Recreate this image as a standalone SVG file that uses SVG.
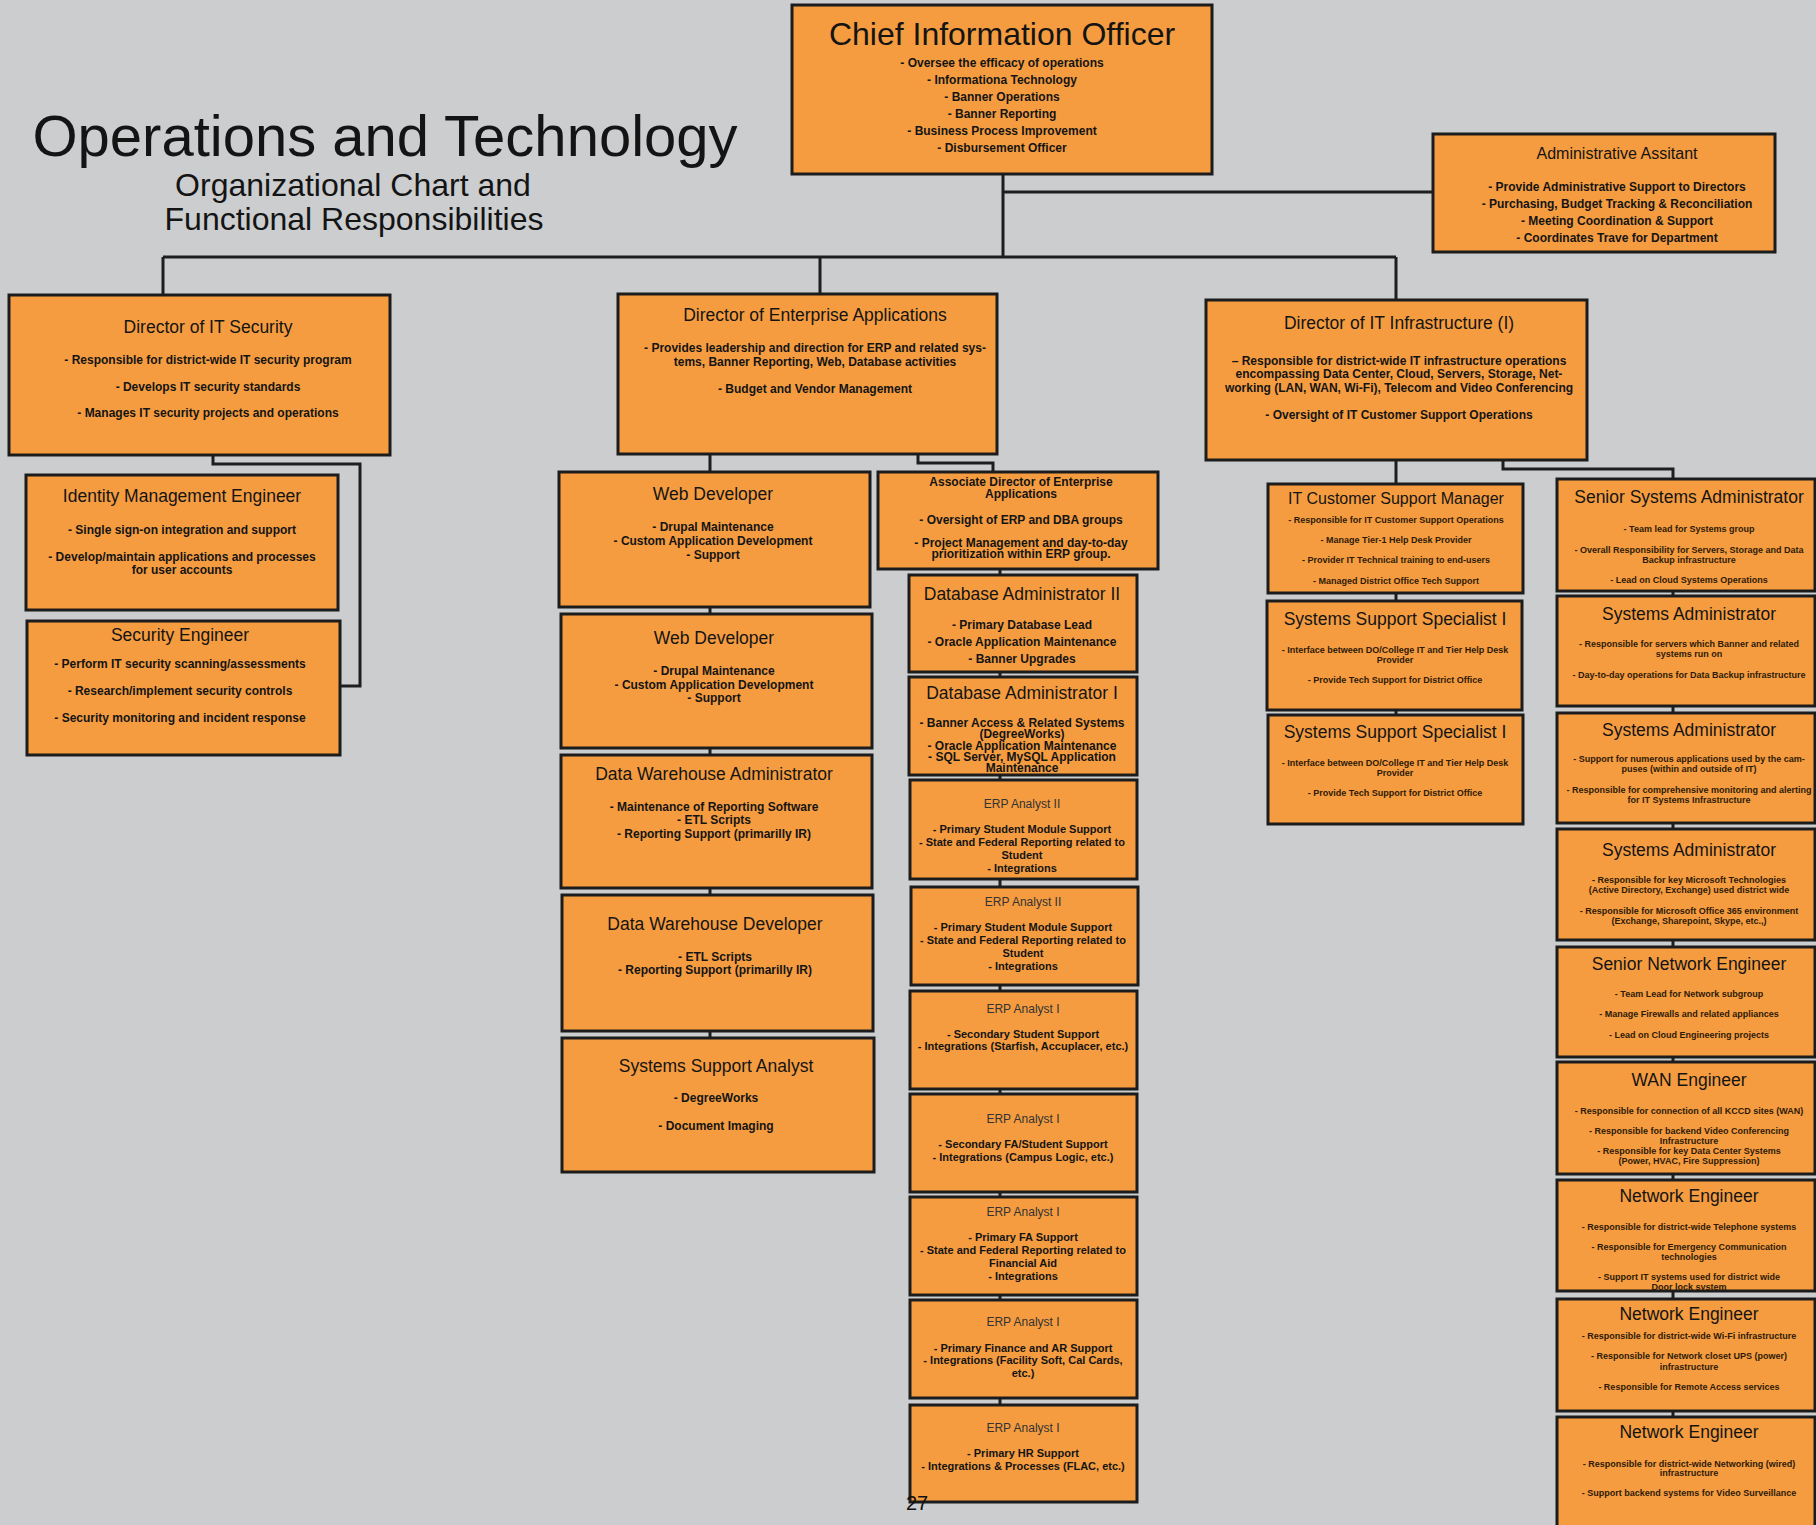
<svg xmlns="http://www.w3.org/2000/svg" width="1816" height="1525" viewBox="0 0 1816 1525">
<style>
.bg{fill:#cbcdcf}
.bx{fill:#f59c40;stroke:#1c1c1c;stroke-width:3}
.ln{fill:none;stroke:#1e1e1e;stroke-width:3}
text{font-family:"Liberation Sans",Arial,sans-serif;text-anchor:middle;fill:#141414}
.h{font-size:17.5px}
.h16{font-size:16px}
.b{font-size:12px;font-weight:bold}
.e{font-size:12px;fill:#333}
.eb{font-size:11px;font-weight:bold}
.s{font-size:9px;font-weight:bold;fill:#2e1a08}
</style>
<rect class="bg" x="0" y="0" width="1816" height="1525"/>
<g id="title">
<text x="385" y="156" style="font-size:58px">Operations and Technology</text>
<text x="353" y="196" style="font-size:32px">Organizational Chart and</text>
<text x="354" y="230" style="font-size:32px">Functional Responsibilities</text>
</g>
<g id="connectors">
<path class="ln" d="M1003 174V257M1003 192H1433M163 257H1396M163 257V295M820 257V294M1396 257V300"/>
<path class="ln" d="M213 455V464H360V686H340"/>
<path class="ln" d="M710 454V1038"/>
<path class="ln" d="M918 454V463H993V472"/>
<path class="ln" d="M1000 569V1405"/>
<path class="ln" d="M1396 460V715"/>
<path class="ln" d="M1503 460V469H1673V479"/>
<path class="ln" d="M1673 479V1525"/>
</g>
<g id="cio">
<rect class="bx" x="792" y="5" width="420" height="169"/>
<text x="1002" y="45" style="font-size:32px">Chief Information Officer</text>
<text class="b" x="1002" y="67">- Oversee the efficacy of operations</text>
<text class="b" x="1002" y="84">- Informationa Technology</text>
<text class="b" x="1002" y="101">- Banner Operations</text>
<text class="b" x="1002" y="118">- Banner Reporting</text>
<text class="b" x="1002" y="135">- Business Process Improvement</text>
<text class="b" x="1002" y="152">- Disbursement Officer</text>
</g>
<g id="admin">
<rect class="bx" x="1433" y="134" width="342" height="118"/>
<text class="h16" x="1617" y="159">Administrative Assitant</text>
<text class="b" x="1617" y="191">- Provide Administrative Support to Directors</text>
<text class="b" x="1617" y="208">- Purchasing, Budget Tracking &amp; Reconciliation</text>
<text class="b" x="1617" y="225">- Meeting Coordination &amp; Support</text>
<text class="b" x="1617" y="242">- Coordinates Trave for Department</text>
</g>
<g id="dir-security">
<rect class="bx" x="9" y="295" width="381" height="160"/>
<text class="h" x="208" y="333">Director of IT Security</text>
<text class="b" x="208" y="364">- Responsible for district-wide IT security program</text>
<text class="b" x="208" y="391">- Develops IT security standards</text>
<text class="b" x="208" y="417">- Manages IT security projects and operations</text>
</g>
<g id="identity-eng">
<rect class="bx" x="26" y="475" width="312" height="135"/>
<text class="h" x="182" y="502">Identity Management Engineer</text>
<text class="b" x="182" y="534">- Single sign-on integration and support</text>
<text class="b" x="182" y="561">- Develop/maintain applications and processes</text>
<text class="b" x="182" y="574">for user accounts</text>
</g>
<g id="security-eng">
<rect class="bx" x="27" y="621" width="313" height="134"/>
<text class="h" x="180" y="641">Security Engineer</text>
<text class="b" x="180" y="668">- Perform IT security scanning/assessments</text>
<text class="b" x="180" y="695">- Research/implement security controls</text>
<text class="b" x="180" y="722">- Security monitoring and incident response</text>
</g>
<g id="dir-enterprise">
<rect class="bx" x="618" y="294" width="379" height="160"/>
<text class="h" x="815" y="321">Director of Enterprise Applications</text>
<text class="b" x="815" y="352">- Provides leadership and direction for ERP and related sys-</text>
<text class="b" x="815" y="366">tems, Banner Reporting, Web, Database activities</text>
<text class="b" x="815" y="393">- Budget and Vendor Management</text>
</g>
<g id="web-dev-1">
<rect class="bx" x="559" y="472" width="311" height="135"/>
<text class="h" x="713" y="500">Web Developer</text>
<text class="b" x="713" y="531">- Drupal Maintenance</text>
<text class="b" x="713" y="545">- Custom Application Development</text>
<text class="b" x="713" y="559">- Support</text>
</g>
<g id="web-dev-2">
<rect class="bx" x="561" y="614" width="311" height="134"/>
<text class="h" x="714" y="644">Web Developer</text>
<text class="b" x="714" y="675">- Drupal Maintenance</text>
<text class="b" x="714" y="689">- Custom Application Development</text>
<text class="b" x="714" y="702">- Support</text>
</g>
<g id="dw-admin">
<rect class="bx" x="561" y="755" width="311" height="133"/>
<text class="h" x="714" y="780">Data Warehouse Administrator</text>
<text class="b" x="714" y="811">- Maintenance of Reporting Software</text>
<text class="b" x="714" y="824">- ETL Scripts</text>
<text class="b" x="714" y="838">- Reporting Support (primarilly IR)</text>
</g>
<g id="dw-dev">
<rect class="bx" x="562" y="895" width="311" height="136"/>
<text class="h" x="715" y="930">Data Warehouse Developer</text>
<text class="b" x="715" y="961">- ETL Scripts</text>
<text class="b" x="715" y="974">- Reporting Support (primarilly IR)</text>
</g>
<g id="sys-support-analyst">
<rect class="bx" x="562" y="1038" width="312" height="134"/>
<text class="h" x="716" y="1072">Systems Support Analyst</text>
<text class="b" x="716" y="1102">- DegreeWorks</text>
<text class="b" x="716" y="1130">- Document Imaging</text>
</g>
<g id="assoc-dir">
<rect class="bx" x="878" y="472" width="280" height="97"/>
<text class="b" x="1021" y="486">Associate Director of Enterprise</text>
<text class="b" x="1021" y="498">Applications</text>
<text class="b" x="1021" y="524">- Oversight of ERP and DBA groups</text>
<text class="b" x="1021" y="547">- Project Management and day-to-day</text>
<text class="b" x="1021" y="558">prioritization within ERP group.</text>
</g>
<g id="dba-2">
<rect class="bx" x="909" y="575" width="228" height="97"/>
<text class="h" x="1022" y="600">Database Administrator II</text>
<text class="b" x="1022" y="629">- Primary Database Lead</text>
<text class="b" x="1022" y="646">- Oracle Application Maintenance</text>
<text class="b" x="1022" y="663">- Banner Upgrades</text>
</g>
<g id="dba-1">
<rect class="bx" x="909" y="677" width="228" height="98"/>
<text class="h" x="1022" y="699">Database Administrator I</text>
<text class="b" x="1022" y="727">- Banner Access &amp; Related Systems</text>
<text class="b" x="1022" y="738">(DegreeWorks)</text>
<text class="b" x="1022" y="750">- Oracle Application Maintenance</text>
<text class="b" x="1022" y="761">- SQL Server, MySQL Application</text>
<text class="b" x="1022" y="772">Maintenance</text>
</g>
<g id="erp-2a">
<rect class="bx" x="910" y="780" width="227" height="99"/>
<text class="e" x="1022" y="808">ERP Analyst II</text>
<text class="eb" x="1022" y="833">- Primary Student Module Support</text>
<text class="eb" x="1022" y="846">- State and Federal Reporting related to</text>
<text class="eb" x="1022" y="859">Student</text>
<text class="eb" x="1022" y="872">- Integrations</text>
</g>
<g id="erp-2b">
<rect class="bx" x="911" y="887" width="227" height="98"/>
<text class="e" x="1023" y="906">ERP Analyst II</text>
<text class="eb" x="1023" y="931">- Primary Student Module Support</text>
<text class="eb" x="1023" y="944">- State and Federal Reporting related to</text>
<text class="eb" x="1023" y="957">Student</text>
<text class="eb" x="1023" y="970">- Integrations</text>
</g>
<g id="erp-1a">
<rect class="bx" x="910" y="991" width="227" height="98"/>
<text class="e" x="1023" y="1013">ERP Analyst I</text>
<text class="eb" x="1023" y="1038">- Secondary Student Support</text>
<text class="eb" x="1023" y="1050">- Integrations (Starfish, Accuplacer, etc.)</text>
</g>
<g id="erp-1b">
<rect class="bx" x="910" y="1094" width="227" height="98"/>
<text class="e" x="1023" y="1123">ERP Analyst I</text>
<text class="eb" x="1023" y="1148">- Secondary FA/Student Support</text>
<text class="eb" x="1023" y="1161">- Integrations (Campus Logic, etc.)</text>
</g>
<g id="erp-1c">
<rect class="bx" x="910" y="1197" width="227" height="98"/>
<text class="e" x="1023" y="1216">ERP Analyst I</text>
<text class="eb" x="1023" y="1241">- Primary FA Support</text>
<text class="eb" x="1023" y="1254">- State and Federal Reporting related to</text>
<text class="eb" x="1023" y="1267">Financial Aid</text>
<text class="eb" x="1023" y="1280">- Integrations</text>
</g>
<g id="erp-1d">
<rect class="bx" x="910" y="1300" width="227" height="98"/>
<text class="e" x="1023" y="1326">ERP Analyst I</text>
<text class="eb" x="1023" y="1352">- Primary Finance and AR Support</text>
<text class="eb" x="1023" y="1364">- Integrations (Facility Soft, Cal Cards,</text>
<text class="eb" x="1023" y="1377">etc.)</text>
</g>
<g id="erp-1e">
<rect class="bx" x="910" y="1405" width="227" height="97"/>
<text class="e" x="1023" y="1432">ERP Analyst I</text>
<text class="eb" x="1023" y="1457">- Primary HR Support</text>
<text class="eb" x="1023" y="1470">- Integrations &amp; Processes (FLAC, etc.)</text>
</g>
<g id="dir-infra">
<rect class="bx" x="1206" y="300" width="381" height="160"/>
<text class="h" x="1399" y="329">Director of IT Infrastructure (I)</text>
<text class="b" x="1399" y="365">– Responsible for district-wide IT infrastructure operations</text>
<text class="b" x="1399" y="378">encompassing Data Center, Cloud, Servers, Storage, Net-</text>
<text class="b" x="1399" y="392">working (LAN, WAN, Wi-Fi), Telecom and Video Conferencing</text>
<text class="b" x="1399" y="419">- Oversight of IT Customer Support Operations</text>
</g>
<g id="cs-manager">
<rect class="bx" x="1268" y="484" width="255" height="109"/>
<text class="h16" x="1396" y="504">IT Customer Support Manager</text>
<text class="s" x="1396" y="523">- Responsible for IT Customer Support Operations</text>
<text class="s" x="1396" y="543">- Manage Tier-1 Help Desk Provider</text>
<text class="s" x="1396" y="563">- Provider IT Technical training to end-users</text>
<text class="s" x="1396" y="584">- Managed District Office Tech Support</text>
</g>
<g id="sss-1">
<rect class="bx" x="1267" y="601" width="255" height="109"/>
<text class="h" x="1395" y="625">Systems Support Specialist I</text>
<text class="s" x="1395" y="653">- Interface between DO/College IT and Tier Help Desk</text>
<text class="s" x="1395" y="663">Provider</text>
<text class="s" x="1395" y="683">- Provide Tech Support for District Office</text>
</g>
<g id="sss-2">
<rect class="bx" x="1268" y="715" width="255" height="109"/>
<text class="h" x="1395" y="738">Systems Support Specialist I</text>
<text class="s" x="1395" y="766">- Interface between DO/College IT and Tier Help Desk</text>
<text class="s" x="1395" y="776">Provider</text>
<text class="s" x="1395" y="796">- Provide Tech Support for District Office</text>
</g>
<g id="sr-sysadmin">
<rect class="bx" x="1557" y="479" width="258" height="112"/>
<text class="h" x="1689" y="503">Senior Systems Administrator</text>
<text class="s" x="1689" y="532">- Team lead for Systems group</text>
<text class="s" x="1689" y="553">- Overall Responsibility for  Servers, Storage and Data</text>
<text class="s" x="1689" y="563">Backup infrastructure</text>
<text class="s" x="1689" y="583">- Lead on Cloud Systems Operations</text>
</g>
<g id="sysadmin-1">
<rect class="bx" x="1557" y="596" width="258" height="110"/>
<text class="h" x="1689" y="620">Systems Administrator</text>
<text class="s" x="1689" y="647">- Responsible for servers which Banner and related</text>
<text class="s" x="1689" y="657">systems run on</text>
<text class="s" x="1689" y="678">- Day-to-day operations for Data Backup infrastructure</text>
</g>
<g id="sysadmin-2">
<rect class="bx" x="1557" y="713" width="258" height="110"/>
<text class="h" x="1689" y="736">Systems Administrator</text>
<text class="s" x="1689" y="762">- Support for numerous applications used by the cam-</text>
<text class="s" x="1689" y="772">puses (within and outside of IT)</text>
<text class="s" x="1689" y="793">- Responsible for comprehensive monitoring and alerting</text>
<text class="s" x="1689" y="803">for IT Systems Infrastructure</text>
</g>
<g id="sysadmin-3">
<rect class="bx" x="1557" y="829" width="258" height="111"/>
<text class="h" x="1689" y="856">Systems Administrator</text>
<text class="s" x="1689" y="883">- Responsible for key Microsoft Technologies</text>
<text class="s" x="1689" y="893">(Active Directory, Exchange) used district wide</text>
<text class="s" x="1689" y="914">- Responsible for Microsoft Office 365 environment</text>
<text class="s" x="1689" y="924">(Exchange, Sharepoint, Skype, etc.,)</text>
</g>
<g id="sr-network">
<rect class="bx" x="1557" y="947" width="258" height="110"/>
<text class="h" x="1689" y="970">Senior Network Engineer</text>
<text class="s" x="1689" y="997">- Team Lead for Network subgroup</text>
<text class="s" x="1689" y="1017">- Manage Firewalls and related appliances</text>
<text class="s" x="1689" y="1038">- Lead on Cloud Engineering projects</text>
</g>
<g id="wan-eng">
<rect class="bx" x="1557" y="1062" width="258" height="112"/>
<text class="h" x="1689" y="1086">WAN Engineer</text>
<text class="s" x="1689" y="1114">- Responsible for connection of all KCCD sites (WAN)</text>
<text class="s" x="1689" y="1134">- Responsible for backend Video Conferencing</text>
<text class="s" x="1689" y="1144">Infrastructure</text>
<text class="s" x="1689" y="1154">- Responsible for key Data Center Systems</text>
<text class="s" x="1689" y="1164">(Power, HVAC, Fire Suppression)</text>
</g>
<g id="net-eng-1">
<rect class="bx" x="1557" y="1180" width="258" height="111"/>
<text class="h" x="1689" y="1202">Network Engineer</text>
<text class="s" x="1689" y="1230">- Responsible for district-wide Telephone systems</text>
<text class="s" x="1689" y="1250">- Responsible for Emergency Communication</text>
<text class="s" x="1689" y="1260">technologies</text>
<text class="s" x="1689" y="1280">- Support IT systems used for district wide</text>
<text class="s" x="1689" y="1290">Door lock system</text>
</g>
<g id="net-eng-2">
<rect class="bx" x="1557" y="1299" width="258" height="112"/>
<text class="h" x="1689" y="1320">Network Engineer</text>
<text class="s" x="1689" y="1339">- Responsible for district-wide Wi-Fi infrastructure</text>
<text class="s" x="1689" y="1359">- Responsible for Network closet UPS (power)</text>
<text class="s" x="1689" y="1370">infrastructure</text>
<text class="s" x="1689" y="1390">- Responsible for Remote Access services</text>
</g>
<g id="net-eng-3">
<rect class="bx" x="1557" y="1417" width="258" height="118"/>
<text class="h" x="1689" y="1438">Network Engineer</text>
<text class="s" x="1689" y="1467">- Responsible for district-wide Networking (wired)</text>
<text class="s" x="1689" y="1476">infrastructure</text>
<text class="s" x="1689" y="1496">- Support backend systems for Video Surveillance</text>
</g>
<g id="page-number">
<text x="906" y="1510" style="font-size:20px;text-anchor:start;fill:#111">27</text>
</g>
</svg>
